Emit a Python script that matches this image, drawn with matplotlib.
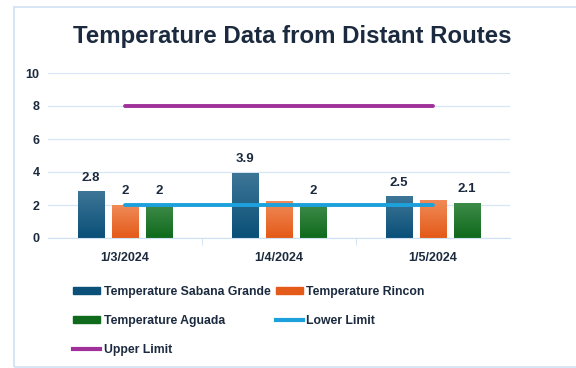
import numpy as np
import matplotlib
matplotlib.use('Agg')
import matplotlib.pyplot as plt
from matplotlib.colors import LinearSegmentedColormap
from matplotlib.patches import Rectangle, Patch
from matplotlib.lines import Line2D

dates = ['1/3/2024', '1/4/2024', '1/5/2024']
sabana = [2.8, 3.9, 2.5]
rincon = [2.0, 2.2, 2.3]
aguada = [2.0, 2.0, 2.1]
lower = [2, 2, 2]
upper = [8, 8, 8]
# which bars show a value label (as in the picture)
show_labels = {'sabana': [True, True, True], 'rincon': [True, False, False], 'aguada': [True, True, True]}

txt = '#1b2a3e'
plt.rcParams['font.family'] = ['Liberation Sans', 'DejaVu Sans']

fig = plt.figure(figsize=(5.76, 3.68), dpi=100)
ax = fig.add_axes([48/576, 1-238/368, 462/576, 165/368])

# panel border
fig.patches.append(Rectangle((14/576, 0.002), 1.5, 1-7/368-0.002, transform=fig.transFigure,
                             fill=False, edgecolor='#cfe0f2', lw=1.2))

x = np.arange(len(dates))
w = 0.17
step = 0.22
series = [('sabana', sabana, ['#0a5078', '#3d7596'], 'Temperature Sabana Grande'),
          ('rincon', rincon, ['#e45a18', '#f08a58'], 'Temperature Rincon'),
          ('aguada', aguada, ['#0f6a1c', '#3d8a48'], 'Temperature Aguada')]

handles = {}
for i, (key, vals, cols, name) in enumerate(series):
    bars = ax.bar(x + (i - 1) * step, vals, width=w, color=cols[0], zorder=2)
    cmap = LinearSegmentedColormap.from_list(key, cols)
    for b, v, show in zip(bars, vals, show_labels[key]):
        x0, y0 = b.get_x(), b.get_y()
        ax.imshow(np.linspace(0, 1, 50).reshape(-1, 1), extent=[x0, x0 + b.get_width(), y0, y0 + b.get_height()],
                  origin='lower', aspect='auto', cmap=cmap, zorder=2.1)
        if show:
            ax.text(b.get_x() + b.get_width()/2, v + 0.5, f'{v:g}', ha='center', va='bottom',
                    fontsize=9.5, fontweight='bold', color=txt, zorder=4)
    handles[key] = Patch(color=cols[0], label=name)

ax.plot(x, lower, color='#1da1dc', lw=2.8, solid_capstyle='round', zorder=3)
ax.plot(x, upper, color='#a0309a', lw=2.8, solid_capstyle='round', zorder=3)
handles['lower'] = Line2D([], [], color='#1da1dc', lw=3, label='Lower Limit')
handles['upper'] = Line2D([], [], color='#a0309a', lw=3, label='Upper Limit')

ax.set_xlim(-0.5, 2.5)
ax.set_ylim(0, 10)
ax.set_yticks([0, 2, 4, 6, 8, 10])
ax.set_xticks(x)
ax.set_xticklabels(dates)
ax.set_xticks([0.5, 1.5], minor=True)
ax.grid(axis='y', color='#d6e6f6', lw=0.9, zorder=0)
for s in ['top', 'right', 'left']:
    ax.spines[s].set_visible(False)
ax.spines['bottom'].set_color('#cfe0f2')
ax.tick_params(axis='y', length=0, pad=6, labelsize=9, labelcolor=txt)
ax.tick_params(axis='x', which='major', length=0, pad=10, labelsize=9, labelcolor=txt)
ax.tick_params(axis='x', which='minor', length=5, color='#cfe0f2')
for lab in ax.get_xticklabels() + ax.get_yticklabels():
    lab.set_fontweight('bold')
ax.set_facecolor('none')

fig.text(0.508, 1-37/368, 'Temperature Data from Distant Routes', ha='center', va='center',
         fontsize=17.3, fontweight='bold', color=txt)

order = ['sabana', 'aguada', 'upper', 'rincon', 'lower']
leg = fig.legend([handles[k] for k in order], [handles[k].get_label() for k in order],
                 ncol=2, loc='upper left', bbox_to_anchor=(73/576, 1-286/368), frameon=False,
                 fontsize=8.8, labelspacing=1.4, columnspacing=0.45, handlelength=2.2,
                 handleheight=0.5, handletextpad=0.3, borderpad=0, borderaxespad=0)
for t in leg.get_texts():
    t.set_fontweight('bold')
    t.set_color(txt)

fig.savefig('out.png', dpi=100)
